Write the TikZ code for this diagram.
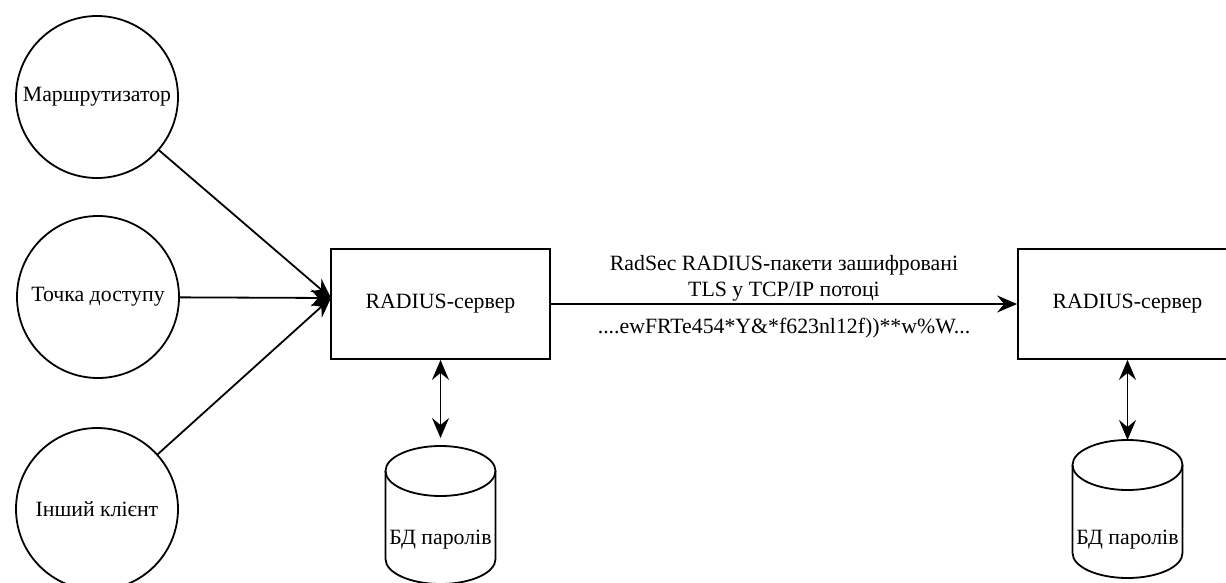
\documentclass[tikz,border=0pt]{standalone}
\usepackage{fontspec}
\setmainfont{Liberation Serif}
\usetikzlibrary{arrows.meta,calc}

% outline of a database cylinder drawn around an (invisible) node
\newcommand\dbshape[1]{%
  \draw[outline] ([yshift=-12.5pt]#1.north) ellipse [x radius=27.5pt, y radius=12.5pt];
  \draw[outline] ([yshift=-12.5pt]#1.north west) -- ([yshift=12.5pt]#1.south west)
    arc[start angle=180, end angle=360, x radius=27.5pt, y radius=12.5pt]
    -- ([yshift=-12.5pt]#1.north east);
}

\begin{document}
\begin{tikzpicture}[x=0.5pt, y=-0.5pt,
  txt/.style={font=\fontsize{10.9pt}{13pt}\selectfont},
  outline/.style={draw=black, line width=0.9pt},
  client/.style={txt, outline, circle, minimum size=81pt, inner sep=0pt},
  server/.style={txt, outline, rectangle, minimum width=109.5pt, minimum height=55pt, inner sep=0pt},
  dbbox/.style={rectangle, minimum width=55pt, minimum height=69pt, inner sep=0pt, outer sep=0pt},
  dblabel/.style={label={[txt, yshift=#1]center:БД паролів}},
  tip/.tip={Stealth[length=10pt, width=8.5pt, inset=3.5pt]},
  arr/.style={draw=black, line width=0.9pt, -tip},
  dbl/.style={draw=black, line width=0.9pt, tip-tip},
  lbl/.style={txt, anchor=base, inner sep=0pt}
]
\clip (0,0) rectangle (1226,583);

% clients
\node[client] (router) at (97,97)  {Маршрутизатор};
\node[client] (ap)     at (98,297) {Точка доступу};
\node[client] (other)  at (97,509) {Інший клієнт};

% servers
\node[server] (srv1) at (440.5,304) {RADIUS-сервер};
\node[server] (srv2) at (1127.5,304) {RADIUS-сервер};

% password databases
\node[dbbox, dblabel=-12.5pt] (db1) at (440.5,515) {};
\node[dbbox, dblabel=-15.5pt] (db2) at (1127.5,509) {};
\dbshape{db1}
\dbshape{db2}

% clients to the first server
\coordinate (hub) at (331,298);
\draw[arr] (router) -- (hub);
\draw[arr] (ap) -- (hub);
\draw[arr] (other) -- (hub);

% servers to databases
\draw[dbl, shorten >=4pt] (srv1.south) -- (db1.north);
\draw[dbl] (srv2.south) -- (db2.north);

% RadSec link
\draw[arr] (srv1.east) -- coordinate[midway] (mid) (srv2.west);
\node[lbl] (l1) at ([yshift=17pt]mid) {RadSec RADIUS-пакети зашифровані};
\node[lbl] (l2) at ([yshift=4pt]mid) {TLS у TCP/IP потоці};
\node[lbl] (l3) at ([yshift=-14.5pt]mid) {....ewFRTe454*Y\&*f623nl12f))**w\%W...};
\end{tikzpicture}
\end{document}
